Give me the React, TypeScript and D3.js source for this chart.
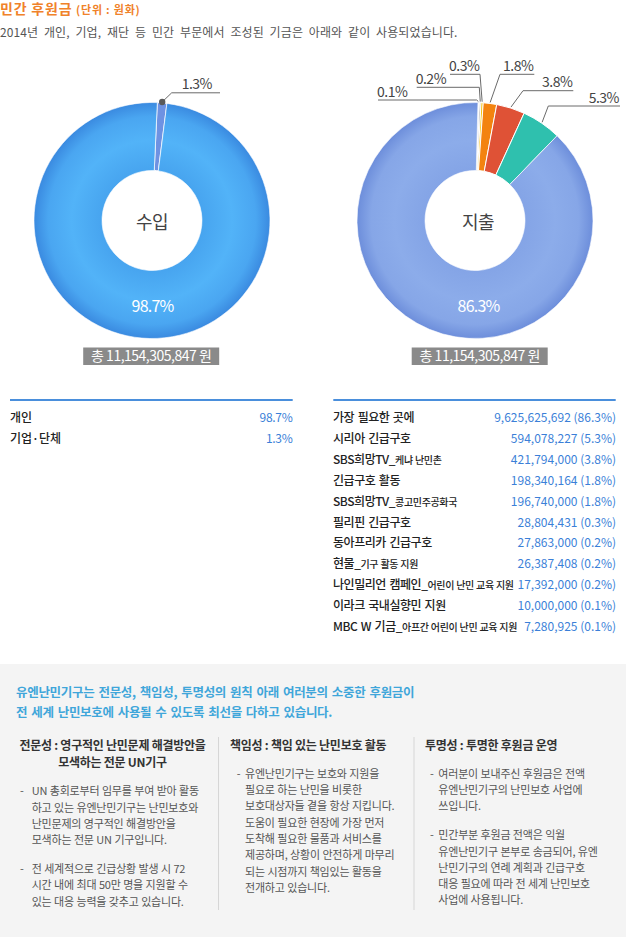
import React from 'react';
import * as d3 from 'd3';

// ---------- data ----------
const titleMain = '민간 후원금';
const titleUnit = '(단위 : 원화)';
const subtitle = '2014년 개인, 기업, 재단 등 민간 부문에서 조성된 기금은 아래와 같이 사용되었습니다.';
const totalAmount = 11154305847;

const incomeNames = ['개인', '기업·단체'];
const incomeShares = [98.7, 1.3];

// slice order on the ring (clockwise from 12 o'clock)
const incomeRing = [1.3, 98.7];
const incomeRingColors = ['#6e92e2', 'url(#gradIncome)'];

const spendRing = [0.1, 0.1, 0.2, 0.3, 1.8, 3.8, 5.3, 86.3];
const spendRingColors = ['#a4a4a4', '#bcbcbc', '#8e8e8e', '#f6c20e', '#f3830f', '#df5236', '#2fc0ae', 'url(#gradSpend)'];
const spendRingLabels = ['0.1%', '', '0.2%', '0.3%', '1.8%', '3.8%', '5.3%', ''];

const spendMain = ['가장 필요한 곳에', '시리아 긴급구호', 'SBS희망TV_', '긴급구호 활동', 'SBS희망TV_', '필리핀 긴급구호', '동아프리카 긴급구호', '현물_', '나인밀리언 캠페인_', '이라크 국내실향민 지원', 'MBC W 기금_'];
const spendSub = ['', '', '케냐 난민촌', '', '콩고민주공화국', '', '', '기구 활동 지원', '어린이 난민 교육 지원', '', '아프간 어린이 난민 교육 지원'];
const spendAmounts = [9625625692, 594078227, 421794000, 198340164, 196740000, 28804431, 27863000, 26387408, 17392000, 10000000, 7280925];
const spendShares = [86.3, 5.3, 3.8, 1.8, 1.8, 0.3, 0.2, 0.2, 0.2, 0.1, 0.1];

const headline = ['유엔난민기구는 전문성, 책임성, 투명성의 원칙 아래 여러분의 소중한 후원금이', '전 세계 난민보호에 사용될 수 있도록 최선을 다하고 있습니다.'];
const colHeads = [
  ['전문성 : 영구적인 난민문제 해결방안을', '모색하는 전문 UN기구'],
  ['책임성 : 책임 있는 난민보호 활동'],
  ['투명성 : 투명한 후원금 운영'],
];
const colBullets = [
  [
    ['UN 총회로부터 임무를 부여 받아 활동', '하고 있는 유엔난민기구는 난민보호와', '난민문제의 영구적인 해결방안을', '모색하는 전문 UN 기구입니다.'],
    ['전 세계적으로 긴급상황 발생 시 72', '시간 내에 최대 50만 명을 지원할 수', '있는 대응 능력을 갖추고 있습니다.'],
  ],
  [
    ['유엔난민기구는 보호와 지원을', '필요로 하는 난민을 비롯한', '보호대상자들 곁을 항상 지킵니다.', '도움이 필요한 현장에 가장 먼저', '도착해 필요한 물품과 서비스를', '제공하며, 상황이 안전하게 마무리', '되는 시점까지 책임있는 활동을', '전개하고 있습니다.'],
  ],
  [
    ['여러분이 보내주신 후원금은 전액', '유엔난민기구의 난민보호 사업에', '쓰입니다.'],
    ['민간부분 후원금 전액은 익월', '유엔난민기구 본부로 송금되어, 유엔', '난민기구의 연례 계획과 긴급구호', '대응 필요에 따라 전 세계 난민보호', '사업에 사용됩니다.'],
  ],
];

// ---------- layout ----------
const W = 626;
const H = 937;
const FONT = '"Noto Sans CJK KR", "Noto Sans", sans-serif';
const R_OUT = 118;
const R_IN = 50;
const fmt = d3.format(',');

// label leader layout (relative to donut center): elbow x/y, end x
const incomeLeader = [{ ex: 19.7, ey: -127.7, end: 68 }, null];
const spendLeader = [
  { ex: 1.7, ey: -120.5, end: -97 },
  null,
  { ex: 4.3, ey: -133.2, end: -58.3 },
  { ex: 5, ey: -146.2, end: -25 },
  { ex: 25, ey: -146.2, end: 59.3 },
  { ex: 48, ey: -129.8, end: 98.3 },
  { ex: 73.3, ey: -114.5, end: 145 },
  null,
];

function Donut({ cx, cy, values, colors, labels, leaders, center, bigLabel, startAngle, dot, totalCx, bigDx }) {
  const pie = d3.pie<number>().sort(null).value((d) => d).startAngle(startAngle).endAngle(startAngle + Math.PI * 2);
  const arcs = pie(values);
  const arc = d3.arc<d3.PieArcDatum<number>>().innerRadius(R_IN).outerRadius(R_OUT);
  const totalText = '총 ' + fmt(totalAmount) + ' 원';
  return (
    <g>
      <g transform={`translate(${cx},${cy})`}>
        {arcs.map((a, i) => (
          <path key={i} d={arc(a) || ''} fill={colors[i]} stroke="#fff" strokeWidth={i === arcs.length - 1 ? 0.6 : 1} />
        ))}
        {arcs.map((a, i) => {
          const L = leaders[i];
          if (!L || !labels[i]) return null;
          const mid = (a.startAngle + a.endAngle) / 2;
          const ax = Math.sin(mid) * (R_OUT + 1);
          const ay = -Math.cos(mid) * (R_OUT + 1);
          const left = L.end < L.ex;
          return (
            <g key={'l' + i}>
              <polyline points={`${ax},${ay} ${L.ex},${L.ey} ${L.end},${L.ey}`} fill="none" stroke="#6a6a6a" strokeWidth={1} />
              {dot && <circle cx={ax} cy={ay} r={3.2} fill="#5a5a5a" />}
              <text
                x={dot ? (L.ex + L.end) / 2 + 1 : L.end - 1}
                y={L.ey - 3.5}
                textAnchor={dot ? 'middle' : left ? 'start' : 'end'}
                fontSize={14}
                letterSpacing={-0.5}
                fill="#444"
                fontFamily={FONT}
              >
                {labels[i]}
              </text>
            </g>
          );
        })}
        <text x={bigDx} y={R_IN + 41.5} textAnchor="middle" fontSize={16} letterSpacing={-0.8} fill="#fff" fontFamily={FONT}>
          {bigLabel}
        </text>
        <text x={bigDx - 0.5} y={8} textAnchor="middle" fontSize={18} letterSpacing={-0.6} fill="#444" fontFamily={FONT}>
          {center}
        </text>
      </g>
      <rect x={totalCx - 68} y={347.5} width={136} height={17.5} fill="#8a8a8a" />
      <text x={totalCx} y={361} textAnchor="middle" fontSize={14} letterSpacing={-0.5} fill="#fff" fontFamily={FONT}>
        {totalText}
      </text>
    </g>
  );
}

export default function App() {
  const rowY = d3.scaleLinear().domain([0, 10]).range([421.8, 631.2]);
  const lineStep = 16.3;
  return (
    <div style={{ position: 'absolute', left: 0, top: 0 }}>
      <svg width={W} height={H} style={{ display: 'block' }} fontFamily={FONT}>
        <defs>
          <radialGradient id="gradIncome" gradientUnits="userSpaceOnUse" cx={0} cy={0} r={R_OUT}>
            <stop offset="0.42" stopColor="#47a4ef" />
            <stop offset="0.68" stopColor="#52b3f8" />
            <stop offset="0.88" stopColor="#4aa6f1" />
            <stop offset="1" stopColor="#3a8ae0" />
          </radialGradient>
          <radialGradient id="gradSpend" gradientUnits="userSpaceOnUse" cx={0} cy={0} r={R_OUT}>
            <stop offset="0.42" stopColor="#84a4e6" />
            <stop offset="0.68" stopColor="#8cacea" />
            <stop offset="0.88" stopColor="#86a6e7" />
            <stop offset="1" stopColor="#6d8edb" />
          </radialGradient>
        </defs>

        {/* title */}
        <text x={0} y={14} fontSize={14} fontWeight="bold" fill="#f0822a" letterSpacing={0.8}>
          {titleMain}
        </text>
        <text x={76} y={14} fontSize={11} fontWeight="bold" fill="#f0822a" letterSpacing={0.8}>
          {titleUnit}
        </text>
        <text x={0} y={37} fontSize={12} fill="#555" letterSpacing={0.1} wordSpacing={3}>
          {subtitle}
        </text>

        <Donut
          cx={152}
          cy={220.5}
          values={incomeRing}
          colors={incomeRingColors}
          labels={['1.3%', '']}
          leaders={incomeLeader}
          center="수입"
          bigLabel="98.7%"
          startAngle={0.045}
          dot={true}
          totalCx={151.2}
          bigDx={0.5}
        />
        <Donut
          cx={475}
          cy={220.5}
          values={spendRing}
          colors={spendRingColors}
          labels={spendRingLabels}
          leaders={spendLeader}
          center="지출"
          bigLabel="86.3%"
          startAngle={0.025}
          dot={false}
          totalCx={479.7}
          bigDx={3.5}
        />

        {/* left table */}
        <rect x={10} y={399} width={282.7} height={2} fill="#4a8fdc" />
        {incomeNames.map((n, i) => (
          <g key={n}>
            <text x={10} y={rowY(i)} fontSize={12} fontWeight={500} letterSpacing={0} fill="#222">{n}</text>
            <text x={292.5} y={rowY(i)} fontSize={12} letterSpacing={-0.3} textAnchor="end" fill="#3b7fd8">{incomeShares[i]}%</text>
          </g>
        ))}

        {/* right table */}
        <rect x={333.3} y={399} width={282.4} height={2} fill="#4a8fdc" />
        {spendMain.map((n, i) => (
          <g key={i}>
            <text x={333} y={rowY(i)} fontSize={12} fontWeight={500} letterSpacing={-0.45} wordSpacing={1.2} fill="#222">
              {n}
              {spendSub[i] && <tspan fontSize={10} letterSpacing={-0.35} wordSpacing={0.3}>{spendSub[i]}</tspan>}
            </text>
            <text x={616} y={rowY(i)} fontSize={12} letterSpacing={0} textAnchor="end" fill="#3b7fd8">
              {fmt(spendAmounts[i])} ({spendShares[i]}%)
            </text>
          </g>
        ))}

        {/* bottom panel */}
        <rect x={0} y={664} width={W} height={H - 664} fill="#f4f4f4" />
        {headline.map((t, i) => (
          <text key={i} x={16} y={697 + i * 20} fontSize={12.5} fontWeight="bold" letterSpacing={-0.3} wordSpacing={1.5} fill="#3fa6da">{t}</text>
        ))}
        <line x1={218.5} x2={218.5} y1={737} y2={910} stroke="#d6d6d6" />
        <line x1={414} x2={414} y1={737} y2={910} stroke="#d6d6d6" />
        {colHeads.map((hd, c) => {
          const colX = [112.5, 230, 425][c];
          const dashX = [20, 236.7, 430][c];
          const textX = [31.7, 245, 438.3][c];
          const headY0 = 749.5;
          let y = headY0 + (hd.length - 1) * 17.5 + 28.3;
          const items: any[] = [];
          colBullets[c].forEach((b, bi) => {
            items.push(<text key={'d' + bi} x={dashX} y={y} fontSize={11} fill="#555">-</text>);
            b.forEach((line, li) => {
              items.push(
                <text key={bi + '-' + li} x={textX} y={y + li * lineStep} fontSize={11} letterSpacing={-0.2} wordSpacing={0.3} fill="#555">{line}</text>
              );
            });
            y += b.length * lineStep + 12.5;
          });
          return (
            <g key={c}>
              {hd.map((h, hi) => (
                <text key={hi} x={colX} y={headY0 + hi * 17.5} textAnchor={c === 0 ? 'middle' : 'start'} fontSize={12} fontWeight="bold" letterSpacing={-0.25} fill="#333">{h}</text>
              ))}
              {items}
            </g>
          );
        })}
      </svg>
    </div>
  );
}
